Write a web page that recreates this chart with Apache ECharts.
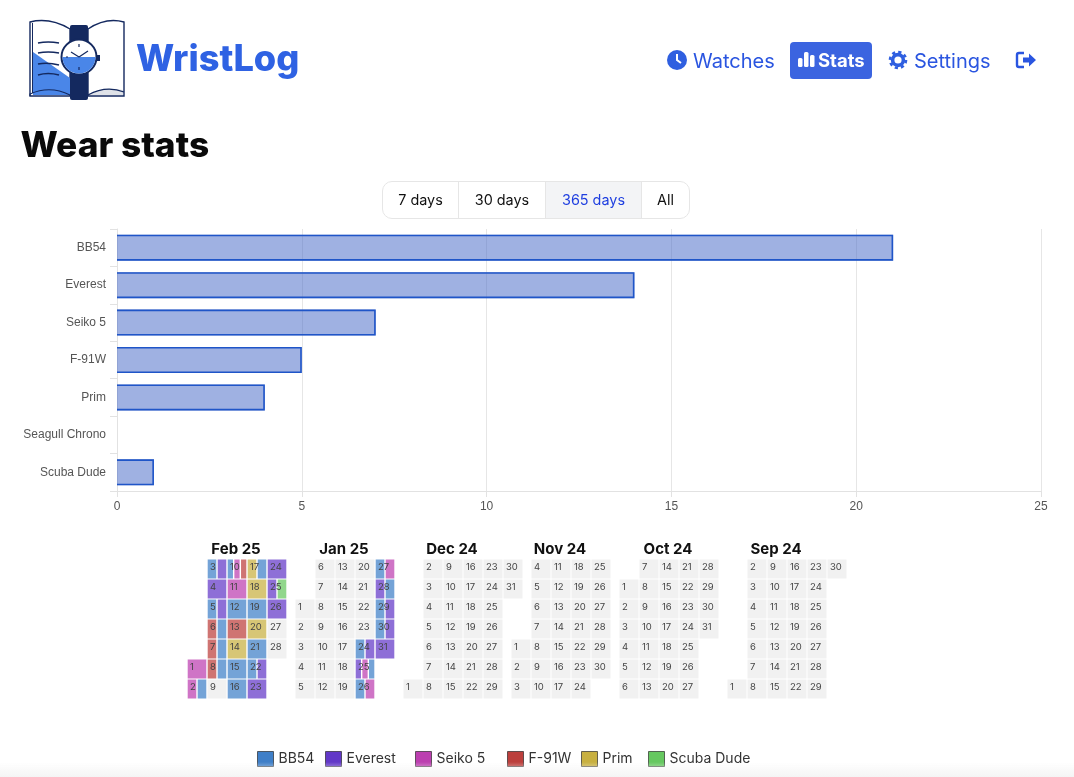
<!DOCTYPE html>
<html lang="en">
<head>
    <meta charset="UTF-8">
    <title>Wear stats</title>
    <script src="https://cdn.jsdelivr.net/npm/echarts@6/dist/echarts.min.js"></script>
    <style>
        html, body { margin: 0; padding: 0; background: #fff; font-family: Inter, sans-serif; overflow: hidden; }
        #page { position: relative; width: 1074px; height: 777px; overflow: hidden; }
        #main { position: absolute; left: 0; top: 0; width: 1074px; height: 777px; }
        .txt { position: absolute; white-space: nowrap; line-height: 1; }
        #logo, .ico { position: absolute; left: 0; top: 0; }
        #brand { left: 136px; top: 40px; font-size: 36.2px; font-weight: 800; color: #2f62e3; }
        #heading { left: 20.5px; top: 127px; font-size: 35.3px; font-weight: 800; color: #0a0a0a; }
        .nav { top: 51px; font-size: 20px; color: #2a55e0; }
        #statsBtn { position: absolute; left: 790px; top: 42px; width: 82px; height: 37px; background: #3b64e0; border-radius: 4px; }
        #range { position: absolute; left: 382px; top: 181px; width: 306px; height: 36px; border: 1px solid #e6e6e6; border-radius: 10px; overflow: hidden; font-size: 14.4px; color: #111; }
        #range div { position: absolute; top: 0; height: 36px; line-height: 36px; text-align: center; box-sizing: border-box; }
        #fade { position: absolute; left: 0; top: 762px; width: 1074px; height: 15px; background: linear-gradient(rgba(245,245,245,0), #f5f5f5); }
    </style>
</head>
<body>
<div id="page">
    <div id="main"></div>
    <div id="fade"></div>

    <svg id="logo" width="150" height="110" viewBox="0 0 150 110">
        <path d="M30 22 Q50 17 70 29 L70 96 L30 96 Z" fill="#fff" stroke="#14295f" stroke-width="1.4"/>
        <path d="M88 29 Q106 17 124 22 L124 96 L88 96 Z" fill="#fff" stroke="#14295f" stroke-width="1.4"/>
        <path d="M33 52 L70 78 L70 95 L33 95 Z" fill="#4a86e8"/>
        <path d="M89 94 Q106 86 123 90 L123 95 L89 95 Z" fill="#dfe2e8"/>
        <path d="M32.5 23 L32.5 93" fill="none" stroke="#14295f" stroke-width="1"/>
        <path d="M30 96 L30 94 Q50 85 70 95 M88 95 Q106 85 124 92" fill="none" stroke="#14295f" stroke-width="1.2"/>
        <path d="M38 43 Q48 41 59 43 M38 53 Q48 51 59 53 M38 64 Q48 62 59 65 M38 75 Q48 72 59 75" fill="none" stroke="#14295f" stroke-width="1.5"/>
        <rect x="70" y="25" width="18" height="75" rx="2" fill="#14295f"/>
        <rect x="96" y="55" width="4" height="6" fill="#14295f"/>
        <circle cx="79" cy="57" r="17.5" fill="#fff" stroke="#14295f" stroke-width="2"/>
        <path d="M62.5 57 L95.5 57 A16.5 16.5 0 0 1 62.5 57 Z" fill="#4a86e8"/>
        <path d="M79 57 L71 52 M79 57 L88 51" stroke="#14295f" stroke-width="1.2" fill="none"/>
        <path d="M79 44 L79 47 M79 67 L79 70 M66 57 L68 57" stroke="#14295f" stroke-width="1.2"/>
    </svg>
    <div class="txt" id="brand">WristLog</div>
    <div class="txt" id="heading">Wear stats</div>

    <div id="statsBtn"></div>
    <svg class="ico" width="1074" height="110" viewBox="0 0 1074 110">
        <circle cx="677" cy="60" r="10" fill="#2f5fe0"/>
        <path d="M677 54 L677 60 L681 63" fill="none" stroke="#fff" stroke-width="2"/>
        <rect x="798" y="58" width="4.5" height="9" rx="1.5" fill="#fff"/>
        <rect x="804" y="52" width="4.5" height="15" rx="1.5" fill="#fff"/>
        <rect x="810" y="55" width="4.5" height="12" rx="1.5" fill="#fff"/>
        <circle cx="898" cy="60" r="5.4" fill="none" stroke="#2f5fe0" stroke-width="3.6"/>
        <circle cx="898" cy="60" r="8" fill="none" stroke="#2f5fe0" stroke-width="2.6" stroke-dasharray="3.2 3.08"/>
        <path d="M1024 53 L1019 53 Q1017 53 1017 55 L1017 65 Q1017 67 1019 67 L1024 67" fill="none" stroke="#2a55e0" stroke-width="2.4"/>
        <path d="M1023 57.5 L1029 57.5 L1029 53.5 L1036 60 L1029 66.5 L1029 62.5 L1023 62.5 Z" fill="#2a55e0"/>
    </svg>
    <div class="txt nav" style="left:693px">Watches</div>
    <div class="txt" style="left:818px;top:51px;font-size:18.5px;font-weight:700;color:#fff">Stats</div>
    <div class="txt nav" style="left:914px">Settings</div>

    <div id="range">
        <div style="left:0;width:76px;border-right:1px solid #e6e6e6">7 days</div>
        <div style="left:76px;width:87px;border-right:1px solid #e6e6e6">30 days</div>
        <div style="left:163px;width:96px;border-right:1px solid #e6e6e6;background:#f3f4f6;color:#1f3fe0">365 days</div>
        <div style="left:259px;width:47px">All</div>
    </div>
</div>
<script type="text/javascript">
    // total days worn in the selected range
    var watchNames = ['BB54', 'Everest', 'Seiko 5', 'F-91W', 'Prim', 'Seagull Chrono', 'Scuba Dude'];
    var wearCounts = [21, 14, 7, 5, 4, 0, 1];
    var xTicks = [0, 5, 10, 15, 20, 25];

    var legendNames = ['BB54', 'Everest', 'Seiko 5', 'F-91W', 'Prim', 'Scuba Dude'];
    var legendColors = ['#3f7fc8', '#6238c8', '#bc3fb0', '#bc3f3c', '#c8b040', '#66c860'];
    var legendLefts = [257, 325, 415, 507, 581, 648];

    var monthTitles = ['Feb 25', 'Jan 25', 'Dec 24', 'Nov 24', 'Oct 24', 'Sep 24'];
    var monthStarts = ['2025-02-01', '2025-01-01', '2024-12-01', '2024-11-01', '2024-10-01', '2024-09-01'];
    var monthEnds = ['2025-02-28', '2025-01-31', '2024-12-31', '2024-11-30', '2024-10-31', '2024-09-30'];

    // what was on the wrist each day, in the order it was worn
    var feb25Wear = [
        [1, ['Seiko 5']], [2, ['Seiko 5', 'BB54']], [3, ['BB54', 'Everest']], [4, ['Everest']],
        [5, ['BB54', 'Everest']], [6, ['F-91W', 'BB54']], [7, ['F-91W', 'BB54']], [8, ['F-91W', 'BB54']],
        [10, ['BB54', 'Seiko 5', 'F-91W']], [11, ['Seiko 5']], [12, ['BB54']], [13, ['F-91W']],
        [14, ['Prim']], [15, ['BB54']], [16, ['BB54']], [17, ['Prim', 'BB54']], [18, ['Prim']],
        [19, ['BB54']], [20, ['Prim']], [21, ['BB54']], [22, ['BB54', 'Everest']], [23, ['Everest']],
        [24, ['Everest']], [25, ['Everest', 'Scuba Dude']], [26, ['Everest']]
    ];
    var jan25Wear = [
        [24, ['BB54', 'Everest']], [25, ['Everest', 'Seiko 5', 'BB54']], [26, ['BB54', 'Seiko 5']],
        [27, ['BB54', 'Seiko 5']], [28, ['Everest', 'BB54']], [29, ['BB54', 'Everest']],
        [30, ['BB54', 'Everest']], [31, ['Everest']]
    ];
    var monthWear = [feb25Wear, jan25Wear, [], [], [], []];

    var myChart = echarts.init(document.getElementById('main'));
    var CELL = 20;
    var BAR_HEIGHT = 26;

    function dayStr(start, d) {
        return start.slice(0, 8) + (d < 10 ? '0' : '') + d;
    }

    // bar without a border on the axis side, nothing at all for zero
    function renderBar(params, api) {
        var value = api.value(0);
        if (!value) {
            return null;
        }
        var idx = api.value(1);
        var from = api.coord([0, idx]);
        var to = api.coord([value, idx]);
        var top = from[1] - BAR_HEIGHT / 2;
        var bottom = from[1] + BAR_HEIGHT / 2;
        return {
            type: 'group',
            children: [{
                type: 'rect',
                shape: {x: from[0], y: top, width: to[0] - from[0], height: BAR_HEIGHT},
                style: {fill: 'rgba(63,99,197,0.5)'}
            }, {
                type: 'polyline',
                shape: {points: [[from[0], top + 0.8], [to[0] - 0.8, top + 0.8], [to[0] - 0.8, bottom - 0.8], [from[0], bottom - 0.8]]},
                style: {fill: 'none', stroke: '#1f55c8', lineWidth: 1.6}
            }]
        };
    }

    // one custom series per month: grey cell + day number for free days, only the number for worn days
    function renderDay(params, api) {
        var p = api.coord([api.value(0)]);
        var day = api.value(1);
        var worn = api.value(2);
        var x = p[0] - CELL / 2;
        var y = p[1] - CELL / 2;
        var children = [];
        if (!worn) {
            children.push({
                type: 'rect',
                shape: {x: x + 0.5, y: y + 0.5, width: CELL - 1, height: CELL - 1},
                style: {fill: '#f1f1f1'}
            });
        }
        children.push({
            type: 'text',
            style: {
                x: x + 3, y: y + 3,
                text: String(day),
                font: '9.5px Inter',
                fill: '#444',
                textAlign: 'left',
                textVerticalAlign: 'top'
            }
        });
        return {type: 'group', children: children};
    }

    // a strip of a cell, days with several watches are split in equal widths
    function renderStrip(color) {
        return function (params, api) {
            var p = api.coord([api.value(0)]);
            var w = CELL / api.value(2);
            return {
                type: 'rect',
                shape: {
                    x: p[0] - CELL / 2 + api.value(1) * w + 0.7,
                    y: p[1] - CELL / 2 + 0.5,
                    width: w - 1.4,
                    height: CELL - 1
                },
                style: {fill: color, opacity: 0.72}
            };
        };
    }

    var calendars = [];
    var titles = [];
    var series = [];

    series.push({
        type: 'custom',
        coordinateSystem: 'cartesian2d',
        encode: {x: 0, y: 1},
        renderItem: renderBar,
        data: wearCounts.map(function (v, i) {
            return [v, i];
        })
    });

    monthTitles.forEach(function (title, i) {
        var left = 187 + 108 * i;
        calendars.push({
            left: left,
            top: 559,
            cellSize: [CELL, CELL],
            orient: 'horizontal',
            range: [monthStarts[i], monthEnds[i]],
            splitLine: {show: false},
            itemStyle: {color: 'transparent', borderWidth: 0},
            dayLabel: {show: false, firstDay: 1},
            monthLabel: {show: false},
            yearLabel: {show: false}
        });
        titles.push({
            text: title,
            left: left + 44,
            top: 537,
            textAlign: 'center',
            textStyle: {fontFamily: 'Inter', fontSize: 15, fontWeight: 700, color: '#111'}
        });

        var worn = {};
        monthWear[i].forEach(function (entry) {
            worn[entry[0]] = entry[1];
        });
        var lastDay = parseInt(monthEnds[i].slice(8), 10);
        var dayData = [];
        for (var d = 1; d <= lastDay; d++) {
            dayData.push([dayStr(monthStarts[i], d), d, worn[d] ? 1 : 0]);
        }
        series.push({
            name: 'days' + i,
            type: 'custom',
            coordinateSystem: 'calendar',
            calendarIndex: i,
            z: 5,
            silent: true,
            renderItem: renderDay,
            data: dayData
        });

        legendNames.forEach(function (name, k) {
            var data = [];
            monthWear[i].forEach(function (entry) {
                var pos = entry[1].indexOf(name);
                if (pos >= 0) {
                    data.push([dayStr(monthStarts[i], entry[0]), pos, entry[1].length]);
                }
            });
            series.push({
                name: name,
                type: 'custom',
                coordinateSystem: 'calendar',
                calendarIndex: i,
                z: 3,
                itemStyle: {color: legendColors[k]},
                renderItem: renderStrip(legendColors[k]),
                data: data
            });
        });
    });

    var option = {
        animation: false,
        title: titles,
        tooltip: {show: false},
        legend: legendNames.map(function (name, k) {
            return {
                data: [{name: name, icon: 'rect', itemStyle: {color: legendColors[k], borderColor: 'rgba(30,30,30,0.65)', borderWidth: 1}}],
                left: legendLefts[k],
                top: 751,
                padding: 0,
                itemWidth: 16,
                itemHeight: 15,
                selectedMode: false,
                textStyle: {fontFamily: 'Inter', fontSize: 14, color: '#333'}
            };
        }),
        grid: {left: 117, top: 229, width: 924, height: 262, containLabel: false},
        xAxis: {
            type: 'value',
            min: xTicks[0],
            max: xTicks[xTicks.length - 1],
            interval: xTicks[1] - xTicks[0],
            axisLine: {show: true, lineStyle: {color: '#e2e2e2'}},
            axisTick: {show: true, length: 6, lineStyle: {color: '#e2e2e2'}},
            axisLabel: {color: '#555', fontFamily: 'Liberation Sans', fontSize: 12, margin: 10},
            splitLine: {lineStyle: {color: '#e6e6e6'}}
        },
        yAxis: {
            type: 'category',
            inverse: true,
            data: watchNames,
            axisLine: {show: true, onZero: false, lineStyle: {color: '#e2e2e2'}},
            axisTick: {show: true, length: 7, lineStyle: {color: '#e2e2e2'}},
            axisLabel: {color: '#555', fontFamily: 'Liberation Sans', fontSize: 12, margin: 11}
        },
        calendar: calendars,
        series: series
    };
    myChart.setOption(option);
</script>
</body>
</html>
